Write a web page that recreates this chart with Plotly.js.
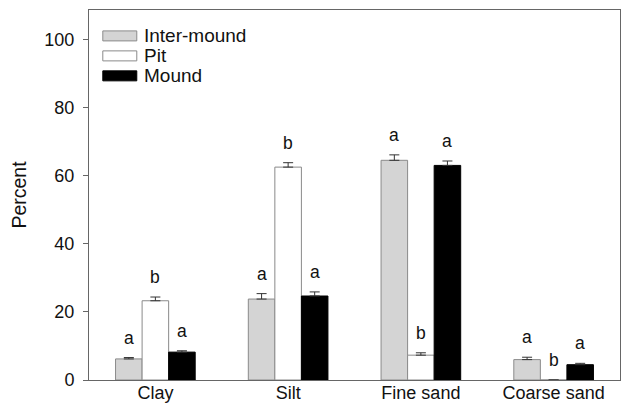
<!DOCTYPE html>
<html>
<head>
<meta charset="utf-8">
<script src="https://cdn.plot.ly/plotly-3.0.1.min.js"></script>
<style>html,body{margin:0;padding:0;background:#fff;}#chart{width:627px;height:405px;}</style>
</head>
<body>
<div id="chart"></div>
<script>
var categories = ['Clay', 'Silt', 'Fine sand', 'Coarse sand'];
var seriesNames = ['Inter-mound', 'Pit', 'Mound'];
var interMound = [6.2, 23.8, 64.6, 6.0];
var interMoundErr = [0.4, 1.6, 1.6, 0.7];
var pit = [23.3, 62.6, 7.3, 0];
var pitErr = [1.1, 1.3, 0.7, 0];
var mound = [8.2, 24.7, 63.1, 4.5];
var moundErr = [0.4, 1.2, 1.3, 0.4];
var interMoundLetters = ['a', 'a', 'a', 'a'];
var pitLetters = ['b', 'b', 'b', 'b'];
var moundLetters = ['a', 'a', 'a', 'a'];
var yTicks = [0, 20, 40, 60, 80, 100];

var fills = ['#d4d4d4', '#ffffff', '#000000'];
var outlines = ['#8a8a8a', '#8a8a8a', '#000000'];
var FONT = 'Liberation Sans, Arial, sans-serif';
var BARGAP = 0.4;

var values = [interMound, pit, mound];
var errs = [interMoundErr, pitErr, moundErr];
var letters = [interMoundLetters, pitLetters, moundLetters];

var traces = values.map(function (v, j) {
  return {
    type: 'bar',
    name: seriesNames[j],
    x: categories,
    y: v,
    marker: {color: fills[j], line: {color: outlines[j], width: 1}},
    error_y: {type: 'data', array: errs[j], symmetric: false, arrayminus: v.map(function(){return 0;}),
              color: '#333333', thickness: 1, width: 5},
    showlegend: false,
    hoverinfo: 'none'
  };
});

var annotations = [];
var barW = (1 - BARGAP) / 3;
for (var j = 0; j < 3; j++) {
  for (var i = 0; i < categories.length; i++) {
    annotations.push({
      xref: 'x', yref: 'y',
      x: i + (j - 1) * barW,
      y: values[j][i] + errs[j][i],
      text: letters[j][i],
      showarrow: false,
      yanchor: 'bottom',
      yshift: 8,
      font: {family: FONT, size: 17.5, color: '#111'}
    });
  }
}

// legend built from series names
var shapes = [];
for (var k = 0; k < 3; k++) {
  var yc = 0.93 - k * 0.054;
  shapes.push({
    type: 'rect', xref: 'paper', yref: 'paper',
    x0: 0.026, x1: 0.09, y0: yc - 0.0135, y1: yc + 0.0135,
    fillcolor: fills[k], line: {color: outlines[k], width: 1}
  });
  annotations.push({
    xref: 'paper', yref: 'paper', x: 0.1, y: yc,
    xanchor: 'left', yanchor: 'middle', showarrow: false,
    text: seriesNames[k], font: {family: FONT, size: 19, color: '#111'}
  });
}

var layout = {
  width: 627, height: 405,
  margin: {l: 89, r: 7, t: 10, b: 25},
  paper_bgcolor: '#fff', plot_bgcolor: '#fff',
  barmode: 'group', bargap: BARGAP, bargroupgap: 0,
  font: {family: FONT, size: 18, color: '#111'},
  xaxis: {
    type: 'category', range: [-0.5, 3.5],
    showline: true, linecolor: '#666', linewidth: 1, mirror: true,
    ticks: '', showgrid: false, zeroline: false, ticklabelstandoff: -4,
    tickfont: {family: FONT, size: 18, color: '#111'}
  },
  yaxis: {
    range: [0, 108.8], tickvals: yTicks, ticktext: yTicks.map(String),
    showline: true, linecolor: '#666', linewidth: 1, mirror: true,
    ticks: 'outside', ticklen: 5, tickcolor: '#666', ticklabelstandoff: 5,
    showgrid: false, zeroline: false,
    tickfont: {family: FONT, size: 18, color: '#111'},
    title: {text: 'Percent', font: {family: FONT, size: 19.5, color: '#111'}, standoff: 12}
  },
  shapes: shapes,
  annotations: annotations
};

Plotly.newPlot('chart', traces, layout, {displayModeBar: false, staticPlot: true});
</script>
</body>
</html>
